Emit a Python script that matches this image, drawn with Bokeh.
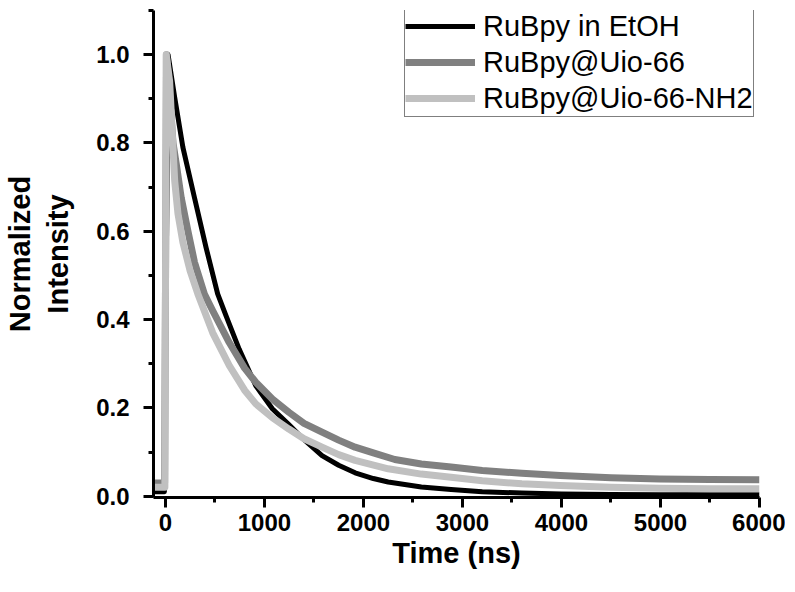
from bokeh.plotting import figure
from bokeh.models import (Range1d, Legend, LegendItem, FixedTicker,
                          PrintfTickFormatter)
from bokeh.embed import file_html
from bokeh.resources import INLINE

# ---- data (time in ns, normalized intensity) ----
series_names = ["RuBpy in EtOH", "RuBpy@Uio-66", "RuBpy@Uio-66-NH2"]

time_etoh = [-120, -60, -10, 27, 94, 177, 294, 411, 528, 612, 745, 913, 1080,
             1247, 1400, 1582, 1750, 1916, 2100, 2250, 2585, 2885, 3200, 3600,
             4000, 4500, 5000, 5500, 6000]
int_etoh = [0.010, 0.010, 0.010, 1.000, 0.903, 0.790, 0.676, 0.563, 0.458,
            0.409, 0.333, 0.250, 0.198, 0.162, 0.128, 0.092, 0.070, 0.053,
            0.040, 0.032, 0.021, 0.015, 0.010, 0.007, 0.005, 0.004, 0.003,
            0.003, 0.003]

time_uio66 = [-120, -60, -8, 12, 45, 77, 110, 160, 228, 294, 394, 478, 645,
              800, 913, 1080, 1247, 1400, 1582, 1750, 1916, 2100, 2317, 2585,
              2885, 3200, 3600, 3989, 4500, 4992, 5500, 6000]
int_uio66 = [0.030, 0.030, 0.030, 1.000, 0.900, 0.800, 0.752, 0.676, 0.600,
             0.530, 0.458, 0.420, 0.348, 0.290, 0.258, 0.220, 0.190, 0.165,
             0.145, 0.127, 0.111, 0.098, 0.083, 0.073, 0.066, 0.058, 0.052,
             0.047, 0.042, 0.039, 0.038, 0.037]

time_nh2 = [-120, -60, -5, 8, 43, 60, 77, 94, 127, 177, 250, 328, 478, 645,
            800, 913, 1080, 1247, 1400, 1582, 1750, 1916, 2250, 2585, 2885,
            3200, 3600, 3989, 4500, 4992, 5500, 6000]
int_nh2 = [0.020, 0.020, 0.020, 1.000, 0.940, 0.865, 0.790, 0.714, 0.640,
           0.575, 0.510, 0.458, 0.370, 0.296, 0.240, 0.209, 0.178, 0.152,
           0.130, 0.111, 0.094, 0.081, 0.062, 0.050, 0.043, 0.035, 0.028,
           0.024, 0.020, 0.018, 0.017, 0.017]

y_ticks = [0.0, 0.2, 0.4, 0.6, 0.8, 1.0]
y_minor = [0.1, 0.3, 0.5, 0.7, 0.9, 1.1]
x_ticks = [0, 1000, 2000, 3000, 4000, 5000, 6000]
x_minor = [500, 1500, 2500, 3500, 4500, 5500]

FONT = "Liberation Sans"

p = figure(width=785, height=576, output_backend="svg", toolbar_location=None,
           x_range=Range1d(-120, 6000), y_range=Range1d(-0.003, 1.1),
           min_border_left=149, min_border_right=26, min_border_top=10,
           min_border_bottom=79,
           x_axis_label="Time (ns)", y_axis_label="Normalized\nIntensity")
p.outline_line_color = None
p.xgrid.visible = False
p.ygrid.visible = False
p.background_fill_color = "white"
p.border_fill_color = "white"

r1 = p.line(time_etoh, int_etoh, line_color="#000000", line_width=5,
            line_join="round")
r2 = p.line(time_uio66, int_uio66, line_color="#808080", line_width=7,
            line_join="round")
r3 = p.line(time_nh2, int_nh2, line_color="#c0c0c0", line_width=7,
            line_join="round")

for ax in (p.xaxis[0], p.yaxis[0]):
    ax.axis_line_width = 3
    ax.major_tick_line_width = 3
    ax.minor_tick_line_width = 3
    ax.major_tick_out = 10
    ax.major_tick_in = 0
    ax.minor_tick_out = 5
    ax.minor_tick_in = 0
    ax.major_label_text_font = FONT
    ax.major_label_text_font_style = "bold"
    ax.major_label_text_font_size = "24px"
    ax.major_label_text_color = "black"
    ax.axis_label_text_font = FONT
    ax.axis_label_text_font_style = "bold"
    ax.axis_label_text_font_size = "29px"
    ax.axis_label_text_color = "black"

p.yaxis[0].ticker = FixedTicker(ticks=y_ticks, minor_ticks=y_minor)
p.yaxis[0].formatter = PrintfTickFormatter(format="%.1f")
p.yaxis[0].major_label_standoff = 14
p.yaxis[0].axis_label_standoff = 19
p.xaxis[0].ticker = FixedTicker(ticks=x_ticks, minor_ticks=x_minor)
p.xaxis[0].formatter = PrintfTickFormatter(format="%d")
p.xaxis[0].major_label_standoff = 6
p.xaxis[0].axis_label_standoff = 3

legend = Legend(items=[LegendItem(label=series_names[0], renderers=[r1]),
                       LegendItem(label=series_names[1], renderers=[r2]),
                       LegendItem(label=series_names[2], renderers=[r3])],
                location=(251, 380))
legend.label_text_font = FONT
legend.label_text_font_size = "29px"
legend.label_text_color = "black"
legend.glyph_width = 70
legend.glyph_height = 36
legend.label_height = 36
legend.label_standoff = 8
legend.spacing = 0
legend.padding = 0
legend.margin = 0
legend.border_line_color = "black"
legend.border_line_width = 1
legend.background_fill_color = "white"
legend.background_fill_alpha = 1
p.add_layout(legend)

open("out.html", "w").write(file_html(p, INLINE))
